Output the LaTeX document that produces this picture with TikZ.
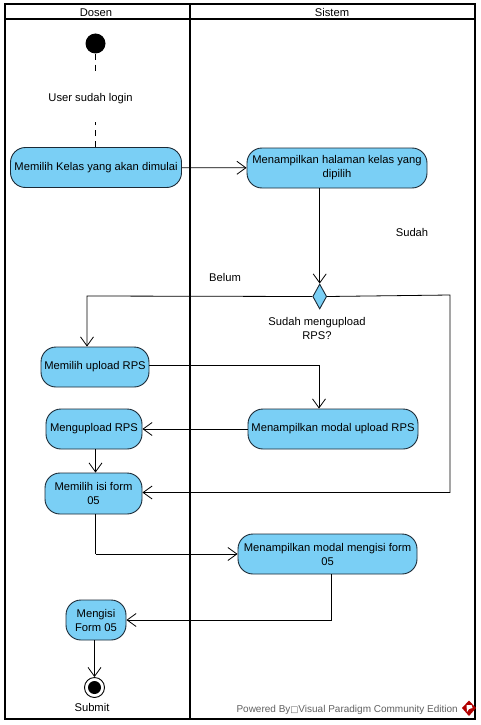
\documentclass[tikz,border=0pt]{standalone}
\usepackage{fontspec}
\setmainfont{Liberation Sans}
\newfontfamily\symfont{DejaVu Sans}
\usetikzlibrary{arrows.meta,shapes.geometric}
\definecolor{actfill}{HTML}{7ACFF5}
\definecolor{actline}{HTML}{1B2A36}
\tikzset{
  x=1pt,y=-1pt,
  lane/.style={draw=black,line width=2pt},
  act/.style={draw=actline,fill=actfill,line width=0.9pt,rounded corners=15pt,align=center,inner sep=0pt,font=\fontsize{11.2}{14}\selectfont},
  txt/.style={inner sep=0pt,align=center,font=\fontsize{11.2}{14}\selectfont},
  flow/.style={draw=black,line width=0.8pt,-{Straight Barb[length=9pt,width=13pt,line width=0.8pt]}},
  dashflow/.style={draw=black,line width=0.8pt,dash pattern=on 6pt off 5pt},
}
\begin{document}
\begin{tikzpicture}
\useasboundingbox (0,0) rectangle (480,725);
\fill[white] (0,0) rectangle (480,725);
% swimlanes
\draw[lane] (4.5,4.5) rectangle (475,719);
\draw[lane] (4.5,19.5) -- (475,19.5);
\draw[lane] (189.5,4.5) -- (189.5,719);
\node[txt] (dosen) at (96,12.5) {Dosen};
\node[txt] (sistem) at (332,12.5) {Sistem};
% nodes
\node[circle,fill=black,minimum size=20pt,inner sep=0pt] (start) at (95.5,43.5) {};
\node[txt,minimum height=47pt] (login) at (90.5,98.5) {User sudah login};
\node[act,minimum width=171pt,minimum height=40pt] (kelas) at (96,167.5) {Memilih Kelas yang akan dimulai};
\node[act,minimum width=180pt,minimum height=40pt] (halaman) at (337,168) {Menampilkan halaman kelas yang\\dipilih};
\node[diamond,draw=actline,fill=actfill,line width=0.9pt,minimum width=14pt,minimum height=25pt,inner sep=0pt,aspect=0.56] (dec) at (319.7,296.5) {};
\node[act,minimum width=108pt,minimum height=40pt] (upload) at (95,367) {Memilih upload RPS};
\node[act,minimum width=96pt,minimum height=40pt] (mengupload) at (94,429) {Mengupload RPS};
\node[act,minimum width=170pt,minimum height=40pt] (modal) at (333,429) {Menampilkan modal upload RPS};
\node[act,minimum width=97pt,minimum height=41pt] (isi) at (93.5,493.5) {Memilih isi form\\05};
\node[act,minimum width=179pt,minimum height=40pt] (modalisi) at (327.5,554) {Menampilkan modal mengisi form\\05};
\node[act,minimum width=60pt,minimum height=40pt] (mengisi) at (96,620) {Mengisi\\Form 05};
\node[circle,draw=black,line width=0.9pt,fill=white,minimum size=20pt,inner sep=0pt] (end) at (94.5,687.5) {};
\node[circle,fill=black,minimum size=13pt,inner sep=0pt] (endin) at (end.center) {};
% labels
\node[txt] (submit) at (92,707.5) {Submit};
\node[txt] (sudah) at (412,232) {Sudah};
\node[txt] (belum) at (225,277.5) {Belum};
\node[txt] (q) at (317,328) {Sudah mengupload\\RPS?};
% connectors
\draw[dashflow] (start) -- (start |- login.north);
\draw[dashflow] (kelas.north -| start) -- (start |- login.south);
\draw[flow] (kelas) -- (halaman);
\coordinate (hd) at (dec.north |- halaman.south);
\draw[flow] (hd) -- (dec.north);
\coordinate (a1) at (87,296);
\coordinate (a2) at (450,295);
\coordinate (a3) at (450,492.5);
\coordinate (a4) at (319,365);
\coordinate (a5) at (95.5,554);
\coordinate (a6) at (331,620);
\draw[flow] (dec.west) -- (a1) -- (a1 |- upload.north);
\draw[flow] (upload.east |- a4) -- (a4) -- (a4 |- modal.north);
\draw[flow] (modal) -- (mengupload);
\draw[flow] (mengupload.south -| a5) -- (a5 |- isi.north);
\draw[flow] (dec.east) -- (a2) -- (a3) -- (isi.east |- a3);
\draw[draw=black,line width=0.8pt] (a5 |- isi.south) -- (a5);
\draw[flow] (a5) -- (modalisi.west);
\draw[flow] (a6 |- modalisi.south) -- (a6) -- (mengisi.east);
\draw[flow] (mengisi.south -| end) -- (end.north);
% footer
\node[anchor=east,inner sep=0pt,text=black!62,font=\fontsize{10}{12}\selectfont] (pw) at (458,710) {Powered By{\symfont\fontsize{8.5}{10}\selectfont □}Visual Paradigm Community Edition};
\fill[red!70!black] (469,700.5) -- (476,708) -- (469,716) -- (462,708) -- cycle;
\fill[white] (466.5,705) -- (471.5,705) -- (472.5,708) -- (469,709) -- (467,712) -- cycle;
\end{tikzpicture}
\end{document}
